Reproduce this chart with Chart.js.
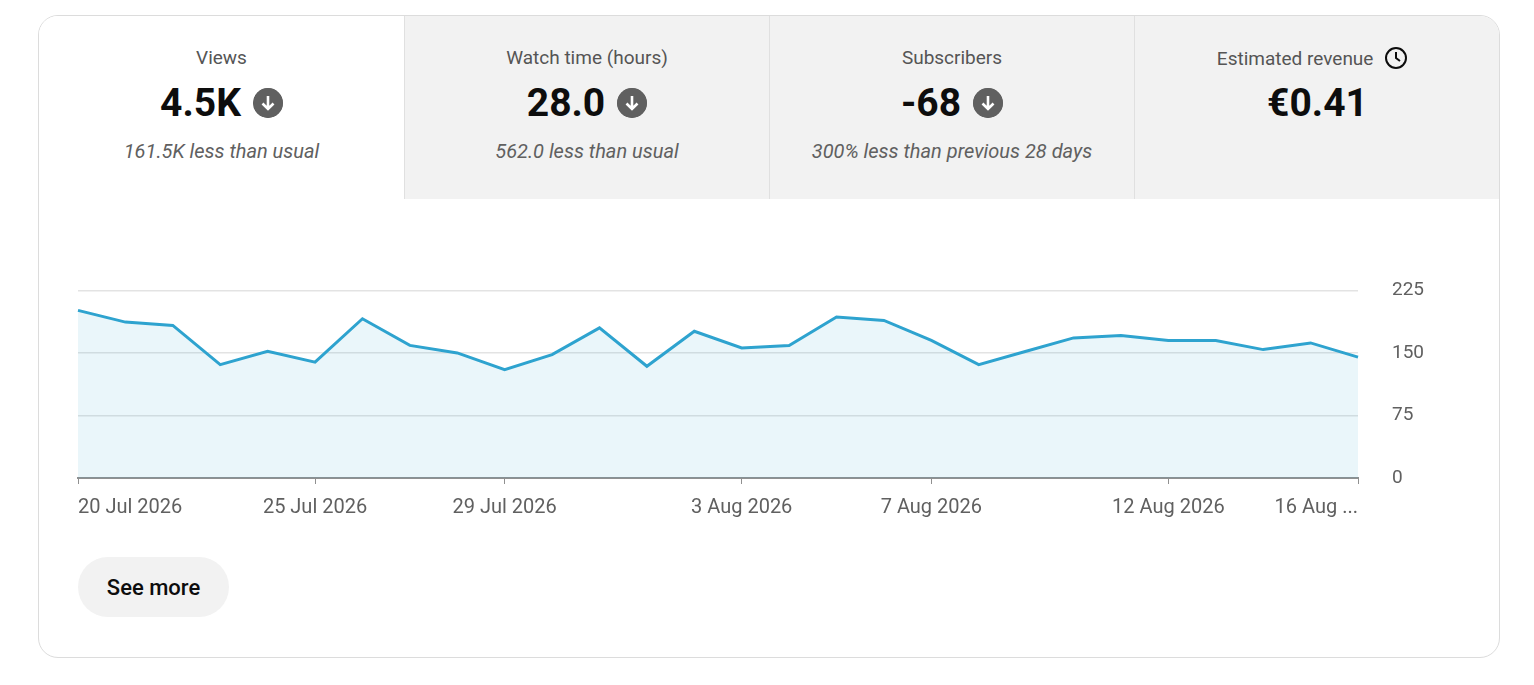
<!DOCTYPE html>
<html><head><meta charset="utf-8">
<script src="https://cdn.jsdelivr.net/npm/chart.js@4"></script>
<style>
body{margin:0;background:#fff;font-family:Roboto,Arial,sans-serif;width:1534px;height:685px;position:relative;overflow:hidden}
.card{position:absolute;left:38px;top:15px;width:1460px;height:641px;border:1px solid #dcdcdc;border-radius:20px;overflow:hidden}
.tab{position:absolute;top:0;height:183px;width:365px;background:#f2f2f2;text-align:center;border-left:1px solid #e0e0e0;box-sizing:border-box}
.tab.sel{background:#fff;border-left:none}
.t{margin-top:30px;font-size:19px;color:#555;height:22px}
.v{margin-top:12px;font-size:39px;font-weight:700;color:#0d0d0d;display:flex;justify-content:center;align-items:center;gap:12px;height:46px}
.s{margin-top:13px;font-size:20px;font-style:italic;color:#606060}
.ic{width:30px;height:30px;border-radius:50%;background:#606060;display:inline-block}
.btn{position:absolute;left:78px;top:557px;width:151px;height:60px;border-radius:30px;background:#f2f2f2;font-size:22px;font-weight:500;display:flex;align-items:center;justify-content:center;color:#0d0d0d}
#cw{position:absolute;left:60px;top:245px;width:1390px;height:295px}
</style></head><body>
<div class="card">
<div class="tab sel" style="left:0"><div class="t">Views</div><div class="v">4.5K <svg class="ic" viewBox="0 0 30 30"><circle cx="15" cy="15" r="15" fill="#606060"/><path d="M15 8v13M9.5 15.5L15 21l5.5-5.5" stroke="#fff" stroke-width="2.6" fill="none"/></svg></div><div class="s">161.5K less than usual</div></div>
<div class="tab" style="left:365px"><div class="t">Watch time (hours)</div><div class="v">28.0 <svg class="ic" viewBox="0 0 30 30"><circle cx="15" cy="15" r="15" fill="#606060"/><path d="M15 8v13M9.5 15.5L15 21l5.5-5.5" stroke="#fff" stroke-width="2.6" fill="none"/></svg></div><div class="s">562.0 less than usual</div></div>
<div class="tab" style="left:730px"><div class="t">Subscribers</div><div class="v">-68 <svg class="ic" viewBox="0 0 30 30"><circle cx="15" cy="15" r="15" fill="#606060"/><path d="M15 8v13M9.5 15.5L15 21l5.5-5.5" stroke="#fff" stroke-width="2.6" fill="none"/></svg></div><div class="s">300% less than previous 28 days</div></div>
<div class="tab" style="left:1095px;width:366px"><div class="t" style="margin-left:-10px">Estimated revenue <svg width="24" height="24" viewBox="0 0 24 24" style="vertical-align:-5px;margin-left:6px"><circle cx="12" cy="12" r="10" stroke="#0d0d0d" stroke-width="2" fill="none"/><path d="M12 6v6l4 3" stroke="#0d0d0d" stroke-width="2" fill="none"/></svg></div><div class="v">€0.41</div></div>
</div>
<div id="cw"><canvas id="c"></canvas></div>
<div class="btn">See more</div>
<script>
const labels=["20 Jul 2026","21 Jul 2026","22 Jul 2026","23 Jul 2026","24 Jul 2026","25 Jul 2026","26 Jul 2026","27 Jul 2026","28 Jul 2026","29 Jul 2026","30 Jul 2026","31 Jul 2026","1 Aug 2026","2 Aug 2026","3 Aug 2026","4 Aug 2026","5 Aug 2026","6 Aug 2026","7 Aug 2026","8 Aug 2026","9 Aug 2026","10 Aug 2026","11 Aug 2026","12 Aug 2026","13 Aug 2026","14 Aug 2026","15 Aug 2026","16 Aug 2026"];
const views=[201,187,183,136,152,139,191,159,150,130,148,180,134,176,156,159,193,189,165,136,152,168,171,165,165,154,162,145];
const tickIdx=[0,5,9,14,18,23,27];
const tickText={27:"16 Aug ..."};
const yTicks=[0,75,150,225];
new Chart(document.getElementById('c'),{type:'line',
data:{labels,datasets:[{data:views,borderColor:'#2ea3cf',borderWidth:3,backgroundColor:'rgba(46,163,207,0.1)',fill:'origin',pointRadius:0,tension:0}]},
options:{responsive:true,maintainAspectRatio:false,animation:false,layout:{padding:{left:18,top:0,right:0,bottom:0}},
plugins:{legend:{display:false},tooltip:{enabled:false}},
scales:{
x:{offset:false,border:{color:'#909090',width:2},grid:{drawOnChartArea:false,color:'#909090',tickLength:6},
 afterFit:s=>{s.height=62},
 ticks:{autoSkip:false,maxRotation:0,align:'inner',padding:12,color:'#606060',font:{family:'Roboto',size:20},
  callback:(v,i)=>tickIdx.includes(i)?(tickText[i]||labels[i]):null}},
y:{position:'right',min:0,max:225,afterFit:s=>{s.width=92},afterBuildTicks:s=>{s.ticks=yTicks.map(v=>({value:v}))},
 border:{display:false},grid:{color:'#e3e3e3',drawTicks:false,lineWidth:1.5},
 ticks:{crossAlign:'near',padding:34,color:'#606060',font:{family:'Roboto',size:19}}}
}}});
</script>
</body></html>
